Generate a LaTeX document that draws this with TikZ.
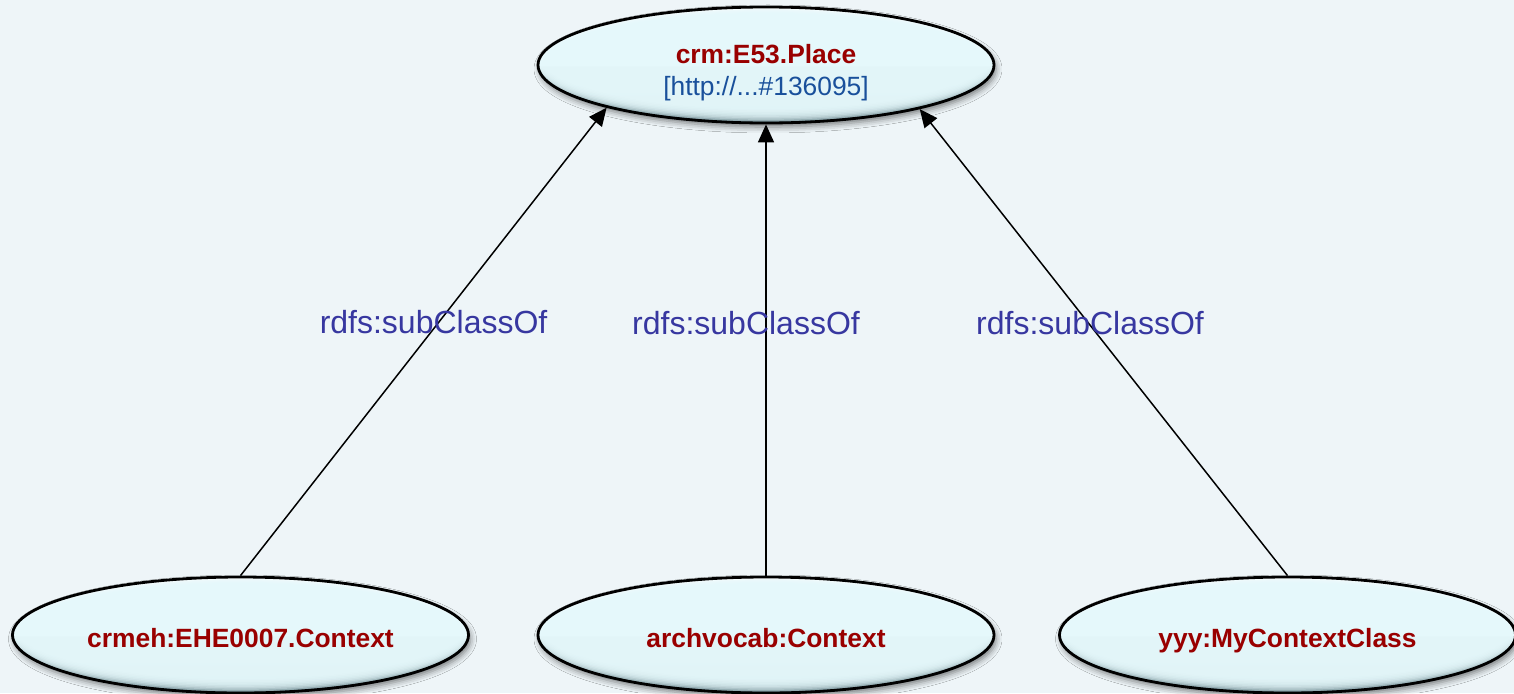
\documentclass[tikz,border=0pt]{standalone}
\usepackage{fontspec}
\setmainfont{Liberation Sans}
\usetikzlibrary{arrows.meta,shapes.geometric,shadows.blur}

\definecolor{pagebg}{RGB}{238,245,248}
\definecolor{bodycyan}{RGB}{229,248,251}
\definecolor{rimshade}{RGB}{100,128,135}
\definecolor{classred}{RGB}{153,0,0}
\definecolor{uriblue}{RGB}{25,80,155}
\definecolor{propblue}{RGB}{55,55,160}

\tikzset{
  classnode/.style={
    ellipse, draw=black, line width=1.4pt,
    minimum width=228pt, minimum height=58pt, inner sep=0pt,
    top color=white, bottom color=rimshade, middle color=bodycyan,
    blur shadow={shadow xshift=1pt, shadow yshift=-2pt,
                 shadow opacity=50, shadow blur radius=3pt},
    path picture={
      \foreach \k in {1,...,9}{
        \fill[bodycyan, fill opacity=0.32]
          ([yshift=0.15*\k pt]path picture bounding box.center)
          ellipse [x radius=114pt-0.75*\k pt, y radius=29pt-0.62*\k pt];
      }
    },
    font=\bfseries\fontsize{13.2}{16}\selectfont, text=classred, align=center},
  singleline/.style={text height=15pt, text depth=3pt},
  doubleline/.style={text height=33pt, text depth=3pt},
  subarrow/.style={line width=0.75pt, -{Triangle[length=9pt,width=8pt]}},
  proplabel/.style={text=propblue, font=\fontsize{16}{18}\selectfont, inner sep=0pt}
}

\begin{document}
\begin{tikzpicture}
  \fill[pagebg] (0,0) rectangle (757pt,346.5pt);
  \useasboundingbox (0,0) rectangle (757pt,346.5pt);

  % classes
  \node[classnode, doubleline] (place) at (383pt,314pt)
    {crm:E53.Place\\{\mdseries\color{uriblue}[http://...\#136095]}};
  \node[classnode, singleline] (ehe) at (120.25pt,29pt) {crmeh:EHE0007.Context};
  \node[classnode, singleline] (arch) at (383pt,29pt) {archvocab:Context};
  \node[classnode, singleline] (mine) at (643.75pt,29pt) {yyy:MyContextClass};

  % subclass relations
  \draw[subarrow] (ehe.north) --
    node[proplabel, pos=0.541, xshift=-2.5pt] {rdfs:subClassOf} (place.195.5);
  \draw[subarrow] (arch.north) --
    node[proplabel, pos=0.56, xshift=-10pt] {rdfs:subClassOf} (place.south);
  \draw[subarrow] (mine.north) --
    node[proplabel, pos=0.541, xshift=0.75pt] {rdfs:subClassOf} (place.344.5);
\end{tikzpicture}
\end{document}
